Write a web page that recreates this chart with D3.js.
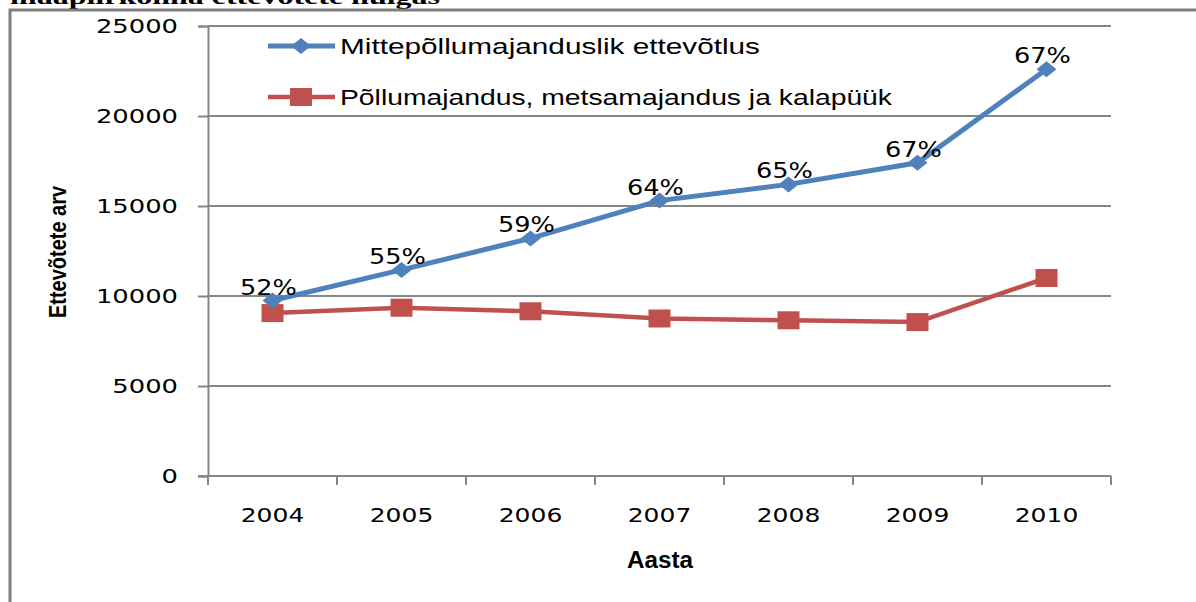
<!DOCTYPE html>
<html>
<head>
<meta charset="utf-8">
<script src="https://cdn.jsdelivr.net/npm/d3@7"></script>
<style>
  body { margin: 0; background: #fff; overflow: hidden; }
</style>
</head>
<body>
<div id="graph"></div>
<script>
// data
var years = ["2004", "2005", "2006", "2007", "2008", "2009", "2010"];
var nonFarm = [9750, 11450, 13200, 15300, 16200, 17400, 22600];
var farm = [9050, 9350, 9150, 8750, 8650, 8550, 11000];
var shares = ["52%", "55%", "59%", "64%", "65%", "67%", "67%"];
var yTicks = [0, 5000, 10000, 15000, 20000, 25000];
var seriesNames = ["Mittepõllumajanduslik ettevõtlus", "Põllumajandus, metsamajandus ja kalapüük"];

var W = 1196, H = 602;
var plotLeft = 208, plotRight = 1111, plotTop = 26, plotBottom = 476;
var grey = "#868686", blue = "#4f81bd", red = "#c0504d";

var svg = d3.select("#graph").append("svg")
    .attr("width", W)
    .attr("height", H);

// cropped heading above the frame
svg.append("text")
    .attr("x", 10).attr("y", 4)
    .attr("textLength", 430).attr("lengthAdjust", "spacingAndGlyphs")
    .style("font-family", "Liberation Serif, serif")
    .style("font-weight", "bold")
    .style("font-size", "22px")
    .text("maapiirkonna ettevõtete hulgas");

// outer frame (cut at right and bottom)
svg.append("path")
    .attr("d", "M10," + (H + 5) + "V10H" + (W + 5))
    .attr("fill", "none")
    .attr("stroke", "#7f7f7f")
    .attr("stroke-width", 3);

var x = d3.scaleBand().domain(years).range([plotLeft, plotRight]);
var y = d3.scaleLinear().domain([0, 25000]).range([plotBottom, plotTop]);

// gridlines
svg.selectAll(".grid")
  .data(yTicks.filter(function(d) { return d > 0; }))
  .enter().append("line")
    .attr("x1", plotLeft).attr("x2", plotRight)
    .attr("y1", function(d) { return y(d); })
    .attr("y2", function(d) { return y(d); })
    .attr("stroke", grey).attr("stroke-width", 2);

// y axis
var yAxis = svg.append("g")
    .attr("transform", "translate(" + plotLeft + ",0)")
    .call(d3.axisLeft(y).tickValues(yTicks).tickSize(10).tickFormat(d3.format("d")));
yAxis.select(".domain").attr("stroke", grey).attr("stroke-width", 2);
yAxis.selectAll(".tick line").attr("stroke", grey).attr("stroke-width", 2);
yAxis.selectAll(".tick text")
    .style("font-family", "DejaVu Sans, Verdana, sans-serif")
    .style("font-size", "19px")
    .attr("fill", "#000")
    .attr("x", 0)
    .attr("dy", "0.36em")
    .attr("transform", "translate(-30,0) scale(1.36,1)");

// x axis
var xAxis = svg.append("g")
    .attr("transform", "translate(0," + plotBottom + ")")
    .call(d3.axisBottom(x).tickSize(0).tickPadding(0));
xAxis.select(".domain").remove();
svg.append("line")
    .attr("x1", 198).attr("x2", plotRight)
    .attr("y1", plotBottom).attr("y2", plotBottom)
    .attr("stroke", grey).attr("stroke-width", 2);
svg.selectAll(".xtick")
  .data(years.concat(["end"]))
  .enter().append("line")
    .attr("x1", function(d, i) { return i < years.length ? x(d) : x.range()[1]; })
    .attr("x2", function(d, i) { return i < years.length ? x(d) : x.range()[1]; })
    .attr("y1", plotBottom).attr("y2", plotBottom + 9)
    .attr("stroke", grey).attr("stroke-width", 2);
xAxis.selectAll(".tick text")
    .style("font-family", "DejaVu Sans, Verdana, sans-serif")
    .style("font-size", "20px")
    .attr("fill", "#000")
    .attr("y", 0).attr("dy", 0)
    .attr("transform", "translate(0,46) scale(1.25,1)");

// axis titles
svg.append("text")
    .attr("transform", "translate(66,252) rotate(-90)")
    .attr("text-anchor", "middle")
    .attr("textLength", 132).attr("lengthAdjust", "spacingAndGlyphs")
    .style("font-family", "Liberation Sans Narrow, Liberation Sans, sans-serif")
    .style("font-weight", "bold")
    .style("font-size", "23px")
    .text("Ettevõtete arv");
svg.append("text")
    .attr("x", 660).attr("y", 568)
    .attr("text-anchor", "middle")
    .attr("textLength", 66).attr("lengthAdjust", "spacingAndGlyphs")
    .style("font-family", "Liberation Sans Narrow, Liberation Sans, sans-serif")
    .style("font-weight", "bold")
    .style("font-size", "23px")
    .text("Aasta");

var cx = function(i) { return x(years[i]) + x.bandwidth() / 2; };
var line = d3.line()
    .x(function(d, i) { return cx(i); })
    .y(function(d) { return y(d); });

// lines
svg.append("path").attr("d", line(farm))
    .attr("fill", "none").attr("stroke", red).attr("stroke-width", 4.5);
svg.append("path").attr("d", line(nonFarm))
    .attr("fill", "none").attr("stroke", blue).attr("stroke-width", 5);

// markers
function diamond(g, px, py) {
  g.append("path")
    .attr("d", "M" + px + "," + (py - 8) + "L" + (px + 10) + "," + py + "L" + px + "," + (py + 8) + "L" + (px - 10) + "," + py + "Z")
    .attr("fill", blue);
}
function square(g, px, py) {
  g.append("rect")
    .attr("x", px - 11).attr("y", py - 9)
    .attr("width", 22).attr("height", 18)
    .attr("fill", red);
}
farm.forEach(function(v, i) { square(svg, cx(i), y(v)); });
nonFarm.forEach(function(v, i) { diamond(svg, cx(i), y(v)); });

// percentage labels
svg.selectAll(".pct")
  .data(shares)
  .enter().append("text")
    .attr("text-anchor", "middle")
    .attr("transform", function(d, i) { return "translate(" + (cx(i) - 4) + "," + (y(nonFarm[i]) - 6) + ") scale(1.22,1)"; })
    .style("font-family", "DejaVu Sans, Verdana, sans-serif")
    .style("font-size", "21px")
    .attr("fill", "#000")
    .text(function(d) { return d; });

// legend
var legend = svg.append("g");
[46, 97].forEach(function(ly, k) {
  legend.append("line")
    .attr("x1", 268).attr("x2", 335)
    .attr("y1", ly).attr("y2", ly)
    .attr("stroke", k === 0 ? blue : red)
    .attr("stroke-width", k === 0 ? 5 : 4.5);
  if (k === 0) diamond(legend, 301, ly); else square(legend, 301, ly);
  legend.append("text")
    .attr("x", 340).attr("y", ly + 8)
    .attr("textLength", k === 0 ? 420 : 552).attr("lengthAdjust", "spacingAndGlyphs")
    .style("font-family", "Liberation Sans Narrow, Liberation Sans, sans-serif")
    .style("font-size", "22px")
    .text(seriesNames[k]);
});
</script>
</body>
</html>
